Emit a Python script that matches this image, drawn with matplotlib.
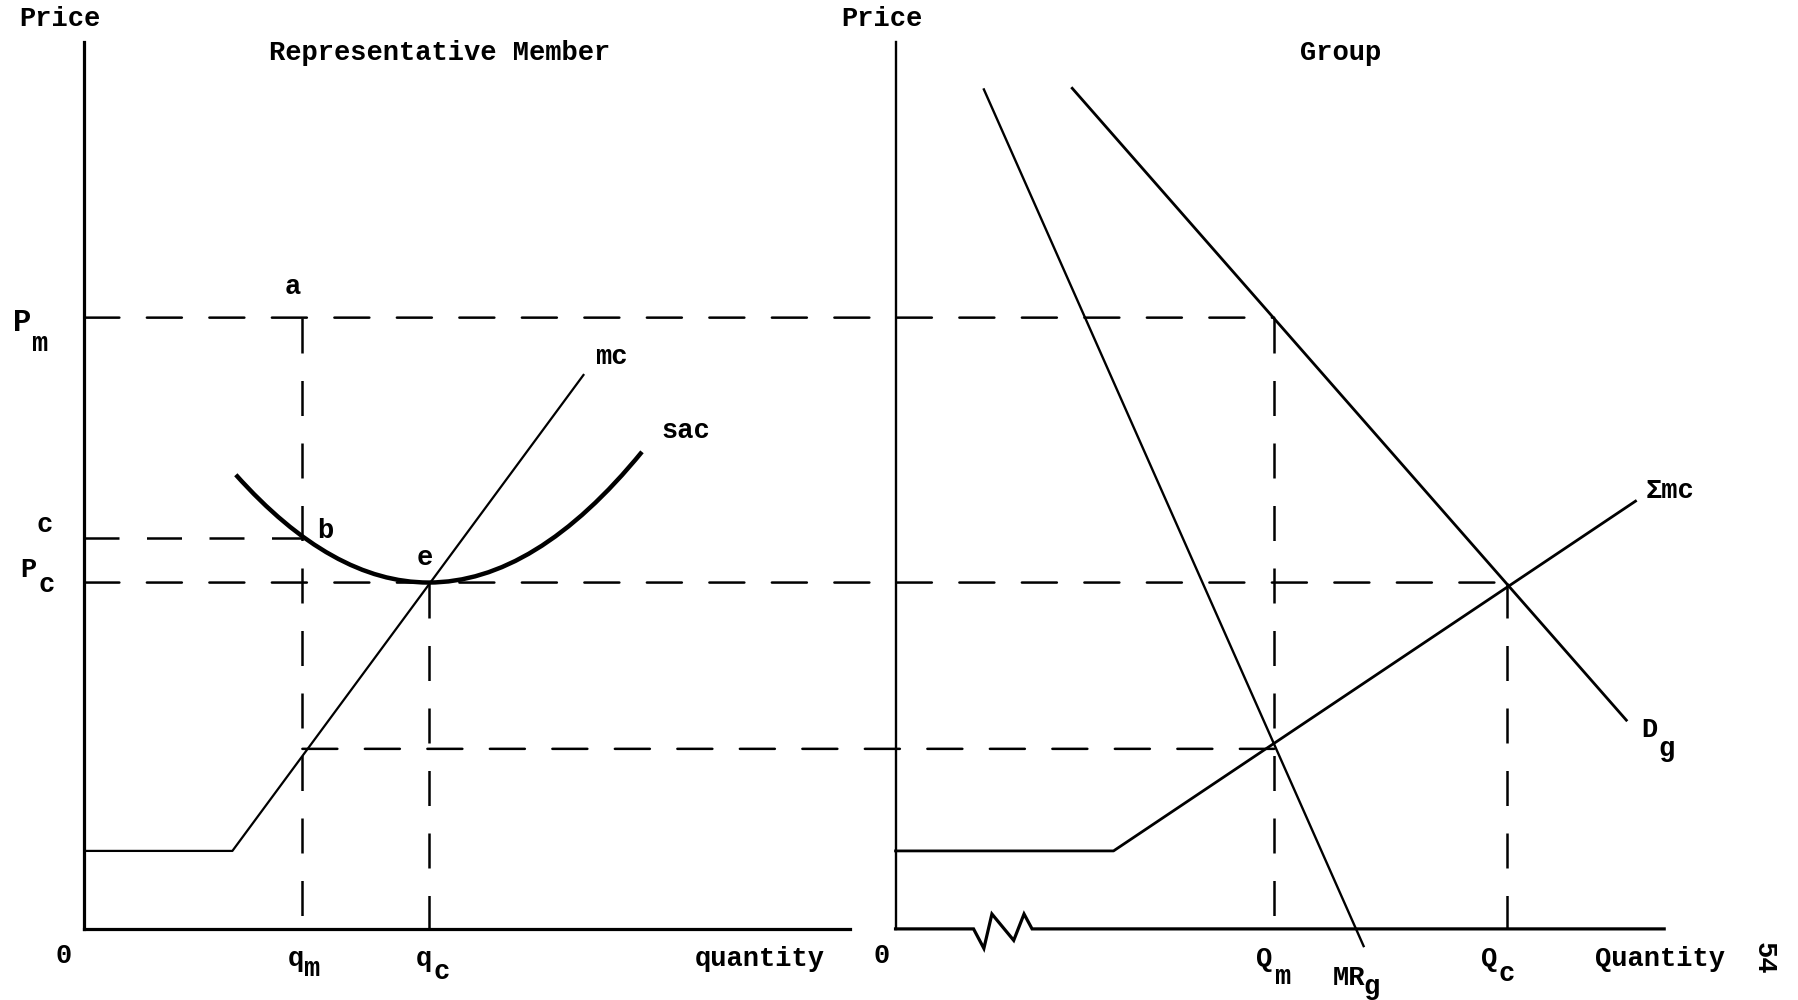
import matplotlib
matplotlib.use("Agg")
import matplotlib.pyplot as plt
from matplotlib.patches import ConnectionPatch, PathPatch
from matplotlib.path import Path

# --- data (price / quantity units) ---
# representative member
P_M = 53.3
P_C = 30.2
C_LEVEL = 34.1
MC_AT_QM = 15.7
q_m = 19.0
q_c = 30.0
mc_q = [0, 12.9, 43.5]
mc_p = [6.8, 6.8, 48.3]
# sac: ends, bottom at e, and the bezier control points between them
sac_q = [13.2, 21.6, 30.0, 39.3, 48.6]
sac_p = [39.6, 30.2, 30.2, 30.2, 41.6]

# group
Q_m = 33.0
Q_c = 53.3
mrg_q = [7.7, 40.8]
mrg_p = [73.2, -1.5]
dg_q = [15.4, 63.7]
dg_p = [73.3, 18.2]
smc_q = [0, 19.0, 64.5]
smc_p = [6.8, 6.8, 37.3]
# quantity axis with the break mark
axis_q = [0, 6.8, 7.7, 8.4, 10.3, 11.2, 11.9, 67.0]
axis_p = [0, 0, -1.7, 1.3, -1.0, 1.3, 0, 0]

FONT = ["Liberation Mono", "DejaVu Sans Mono"]
FS = 19.5
DASH = (0, (14, 11))

fig = plt.figure(figsize=(17.99, 10), dpi=100)
ax1 = fig.add_axes([0.0469, 0.0711, 0.4509, 0.8865])
ax2 = fig.add_axes([0.4978, 0.0711, 0.5022, 0.8865])
ax1.set_xlim(0, 70.7)
ax2.set_xlim(0, 78.75)
for ax in (ax1, ax2):
    ax.set_ylim(0, 77.3)
    ax.set_xticks([])
    ax.set_yticks([])
    ax.patch.set_alpha(0)
    for s in ("top", "right"):
        ax.spines[s].set_visible(False)
ax1.spines["left"].set_linewidth(2.3)
ax1.spines["bottom"].set_linewidth(2.3)
ax1.spines["bottom"].set_bounds(0, 66.7)
ax2.spines["left"].set_linewidth(1.7)
ax2.spines["bottom"].set_visible(False)
ax2.plot(axis_q, axis_p, color="k", lw=2.3, clip_on=False, solid_joinstyle="miter")


def txt(ax, x, y, s, size=FS, **kw):
    ax.text(x, y, s, fontsize=size, family=FONT, weight="bold", ha="center",
            va="center", clip_on=False, **kw)


def dash(ax, xs, ys):
    ax.plot(xs, ys, color="k", lw=1.8, linestyle=DASH, clip_on=False)


def cross_dash(x1, y1, x2, y2):
    con = ConnectionPatch((x1, y1), (x2, y2), "data", "data", axesA=ax1, axesB=ax2,
                          color="k", lw=1.8, linestyle=DASH)
    fig.add_artist(con)


# left panel: member
ax1.plot(mc_q, mc_p, color="k", lw=1.6, clip_on=False)
sac_path = Path(list(zip(sac_q, sac_p)),
                [Path.MOVETO, Path.CURVE3, Path.CURVE3, Path.CURVE3, Path.CURVE3])
ax1.add_patch(PathPatch(sac_path, facecolor="none", edgecolor="k", lw=3.2,
                        capstyle="butt", clip_on=False))
dash(ax1, [0, q_m], [C_LEVEL, C_LEVEL])
dash(ax1, [q_m, q_m], [P_M, 0])
dash(ax1, [q_c, q_c], [P_C, 0])

# right panel: group
ax2.plot(mrg_q, mrg_p, color="k", lw=1.7, clip_on=False)
ax2.plot(dg_q, dg_p, color="k", lw=2.0, clip_on=False)
ax2.plot(smc_q, smc_p, color="k", lw=2.0, clip_on=False)
dash(ax2, [Q_m, Q_m], [P_M, 0])
dash(ax2, [Q_c, Q_c], [P_C, 0])

# dashed links between the panels
cross_dash(0, P_M, Q_m, P_M)
cross_dash(0, P_C, Q_c, P_C)
cross_dash(q_m, MC_AT_QM, Q_m, MC_AT_QM)

# labels, member
txt(ax1, -2.1, 79.3, "Price")
txt(ax1, 31.0, 76.4, "Representative Member")
txt(ax1, 18.2, 56.0, "a")
txt(ax1, 21.0, 34.7, "b")
txt(ax1, -3.5, 35.2, "c")
txt(ax1, 29.7, 32.3, "e")
txt(ax1, 45.9, 49.9, "mc")
txt(ax1, 52.4, 43.4, "sac")
txt(ax1, -5.4, 52.8, "P", size=22)
txt(ax1, -3.9, 51.0, "m")
txt(ax1, -4.9, 31.3, "P")
txt(ax1, -3.3, 30.0, "c")
txt(ax1, -1.8, -2.4, "0")
txt(ax1, 18.4, -2.6, "q")
txt(ax1, 19.8, -3.5, "m")
txt(ax1, 29.6, -2.6, "q")
txt(ax1, 31.1, -3.8, "c")
txt(ax1, 58.9, -2.6, "quantity")

# labels, group
txt(ax2, -1.2, 79.3, "Price")
txt(ax2, 38.8, 76.4, "Group")
txt(ax2, -1.2, -2.4, "0")
txt(ax2, 32.1, -2.6, "Q")
txt(ax2, 33.7, -4.2, "m")
txt(ax2, 39.5, -4.3, "MR")
txt(ax2, 41.5, -5.1, "g")
txt(ax2, 51.7, -2.6, "Q")
txt(ax2, 53.3, -3.9, "c")
txt(ax2, 66.6, -2.6, "Quantity")
txt(ax2, 65.7, 17.3, "D")
txt(ax2, 67.2, 15.7, "g")
txt(ax2, 67.5, 38.2, "\u03a3mc")
txt(ax2, 75.7, -2.6, "54", rotation=-90)

fig.savefig("out.png", dpi=100, facecolor="white")
